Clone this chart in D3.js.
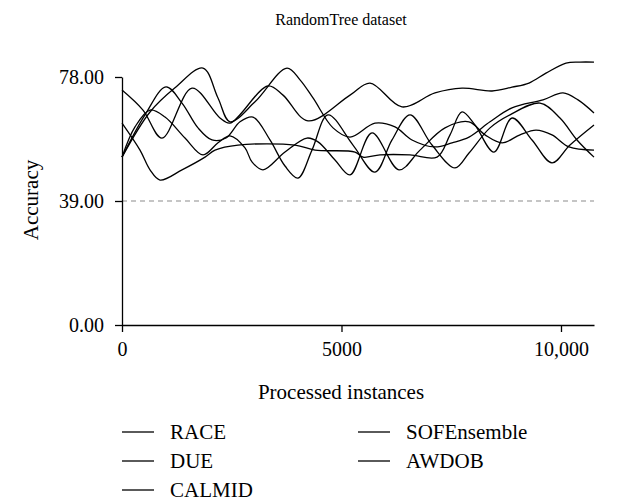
<!DOCTYPE html>
<html>
<head>
    <meta charset="utf-8">
    <title>RandomTree dataset</title>
    <script src="https://d3js.org/d3.v7.min.js"></script>
    <style>
        body { margin: 0; background: #fff; }
        text { font-family: "Liberation Serif", "Times New Roman", serif; fill: #000; }
        .curve { fill: none; stroke: #000; stroke-width: 1.3; }
        .axis path, .axis line { stroke: #000; stroke-width: 1.3; }
    </style>
</head>
<body>
    <svg id="chart" width="621" height="502"></svg>

    <script>
        // Series (x = processed instances, y = accuracy)
        const raceX = [0, 478, 911, 1595, 2232, 2460, 3326, 3668, 4237, 5194, 5649, 6378, 7130, 7745, 8428, 8884, 9271, 9658, 10114, 10433, 10752];
        const raceY = [73.9, 67.6, 58.8, 74.5, 65.1, 63.5, 75.2, 72.3, 64.2, 72.3, 76.1, 68.6, 73.0, 74.5, 73.6, 74.8, 76.1, 79.2, 82.4, 82.7, 82.7];

        const dueX = [0, 638, 1207, 1845, 2187, 2460, 3030, 3759, 4055, 4351, 4807, 5194, 5763, 6219, 6606, 7130, 7517, 7905, 8383, 8884, 9590, 10046, 10388, 10752];
        const dueY = [52.8, 67.0, 74.6, 80.8, 71.4, 63.9, 70.2, 80.8, 77.1, 71.4, 62.0, 59.1, 63.5, 62.3, 58.2, 56.0, 57.3, 59.1, 63.9, 68.3, 70.8, 73.0, 70.8, 66.7];

        const calmidX = [0, 524, 1002, 1367, 1731, 2050, 2369, 2688, 2984, 3371, 3713, 4009, 4328, 4693, 5262, 5763, 6151, 6561, 7062, 7586, 7905, 8383, 8838, 9522, 9977, 10365, 10752];
        const calmidY = [52.8, 66.1, 74.9, 69.8, 62.0, 58.2, 58.8, 63.9, 65.4, 58.2, 50.0, 46.2, 55.0, 66.1, 56.6, 48.1, 58.2, 66.1, 56.6, 49.4, 54.1, 62.0, 66.1, 69.8, 65.1, 58.2, 52.8];

        const sofX = [0, 296, 638, 980, 1435, 1845, 2187, 2460, 2802, 2961, 3212, 3713, 4214, 4465, 4852, 5194, 5695, 6310, 6788, 7358, 7905, 8269, 8656, 9066, 9431, 9795, 10183, 10752];
        const sofY = [52.8, 62.3, 67.6, 65.4, 58.8, 53.5, 57.3, 59.5, 55.7, 51.3, 48.8, 54.4, 58.8, 57.6, 51.9, 47.2, 60.4, 48.8, 55.0, 62.0, 63.9, 59.8, 57.3, 59.8, 61.3, 59.8, 56.0, 55.0];

        const awdobX = [0, 410, 638, 866, 1367, 1891, 2119, 2642, 3941, 4397, 5308, 5490, 5877, 6561, 7176, 7472, 7745, 8041, 8474, 8884, 9340, 9795, 10205, 10752];
        const awdobY = [63.5, 55.0, 48.8, 45.6, 48.8, 52.8, 55.0, 56.6, 56.6, 55.0, 54.4, 52.8, 53.5, 53.5, 52.8, 59.8, 67.0, 62.9, 54.4, 65.1, 58.2, 51.0, 56.6, 62.9];

        const seriesNames = ['RACE', 'DUE', 'CALMID', 'SOFEnsemble', 'AWDOB'];
        const xTicks = [0, 5000, 10000];
        const yTicks = [0, 39, 78];
        const xMax = 10752;
        const yMax = 78;
        const baseline = 39;

        const series = [
            { name: 'RACE', x: raceX, y: raceY },
            { name: 'DUE', x: dueX, y: dueY },
            { name: 'CALMID', x: calmidX, y: calmidY },
            { name: 'SOFEnsemble', x: sofX, y: sofY },
            { name: 'AWDOB', x: awdobX, y: awdobY }
        ];

        const svg = d3.select('#chart');
        const plotLeft = 122, plotRight = 594, plotTop = 77, plotBottom = 325;

        const x = d3.scaleLinear().domain([0, xMax]).range([plotLeft, plotRight]);
        const y = d3.scaleLinear().domain([0, yMax]).range([plotBottom, plotTop]);

        // title
        svg.append('text')
            .attr('x', 341).attr('y', 25)
            .attr('text-anchor', 'middle')
            .style('font-size', '16px')
            .text('RandomTree dataset');

        // dashed reference line
        svg.append('line')
            .attr('x1', x(0)).attr('x2', x(xMax))
            .attr('y1', y(baseline)).attr('y2', y(baseline))
            .attr('stroke', '#8c8c8c')
            .attr('stroke-width', 1.2)
            .attr('stroke-dasharray', '5,4');

        // curves
        const line = d3.line()
            .x(d => x(d[0]))
            .y(d => y(d[1]))
            .curve(d3.curveCatmullRom.alpha(0.5));

        svg.selectAll('.curve')
            .data(series)
            .enter()
            .append('path')
            .attr('class', 'curve')
            .attr('d', s => line(s.x.map((v, i) => [v, s.y[i]])));

        // axes
        const xAxis = d3.axisBottom(x)
            .tickValues(xTicks)
            .tickSize(7)
            .tickSizeOuter(0)
            .tickPadding(10)
            .tickFormat(d => d >= 10000 ? d3.format(',')(d) : d);

        const yAxis = d3.axisLeft(y)
            .tickValues(yTicks)
            .tickSize(7)
            .tickSizeOuter(0)
            .tickPadding(11)
            .tickFormat(d3.format('.2f'));

        svg.append('g')
            .attr('class', 'axis')
            .attr('transform', `translate(0,${plotBottom})`)
            .call(xAxis)
            .call(g => g.selectAll('text').style('font-size', '20px').style('font-family', '"Liberation Serif", serif'));

        svg.append('g')
            .attr('class', 'axis')
            .attr('transform', `translate(${plotLeft},0)`)
            .call(yAxis)
            .call(g => g.selectAll('text').style('font-size', '20px').style('font-family', '"Liberation Serif", serif'));

        // axis titles
        svg.append('text')
            .attr('x', 341).attr('y', 399)
            .attr('text-anchor', 'middle')
            .style('font-size', '21px')
            .text('Processed instances');

        svg.append('text')
            .attr('transform', 'translate(38,200) rotate(-90)')
            .attr('text-anchor', 'middle')
            .style('font-size', '21px')
            .text('Accuracy');

        // legend
        const legendPos = [
            { lx: 122, ty: 432 }, { lx: 122, ty: 461 }, { lx: 122, ty: 490 },
            { lx: 358, ty: 432 }, { lx: 358, ty: 461 }
        ];
        const legend = svg.selectAll('.legend')
            .data(seriesNames)
            .enter()
            .append('g')
            .attr('class', 'legend')
            .attr('transform', (d, i) => `translate(${legendPos[i].lx},${legendPos[i].ty})`);

        legend.append('line')
            .attr('x1', 0).attr('x2', 32)
            .attr('y1', 0).attr('y2', 0)
            .attr('stroke', '#000')
            .attr('stroke-width', 1.3);

        legend.append('text')
            .attr('x', 48).attr('y', 0)
            .attr('dy', '0.35em')
            .style('font-size', '21px')
            .text(d => d);
    </script>
</body>
</html>
